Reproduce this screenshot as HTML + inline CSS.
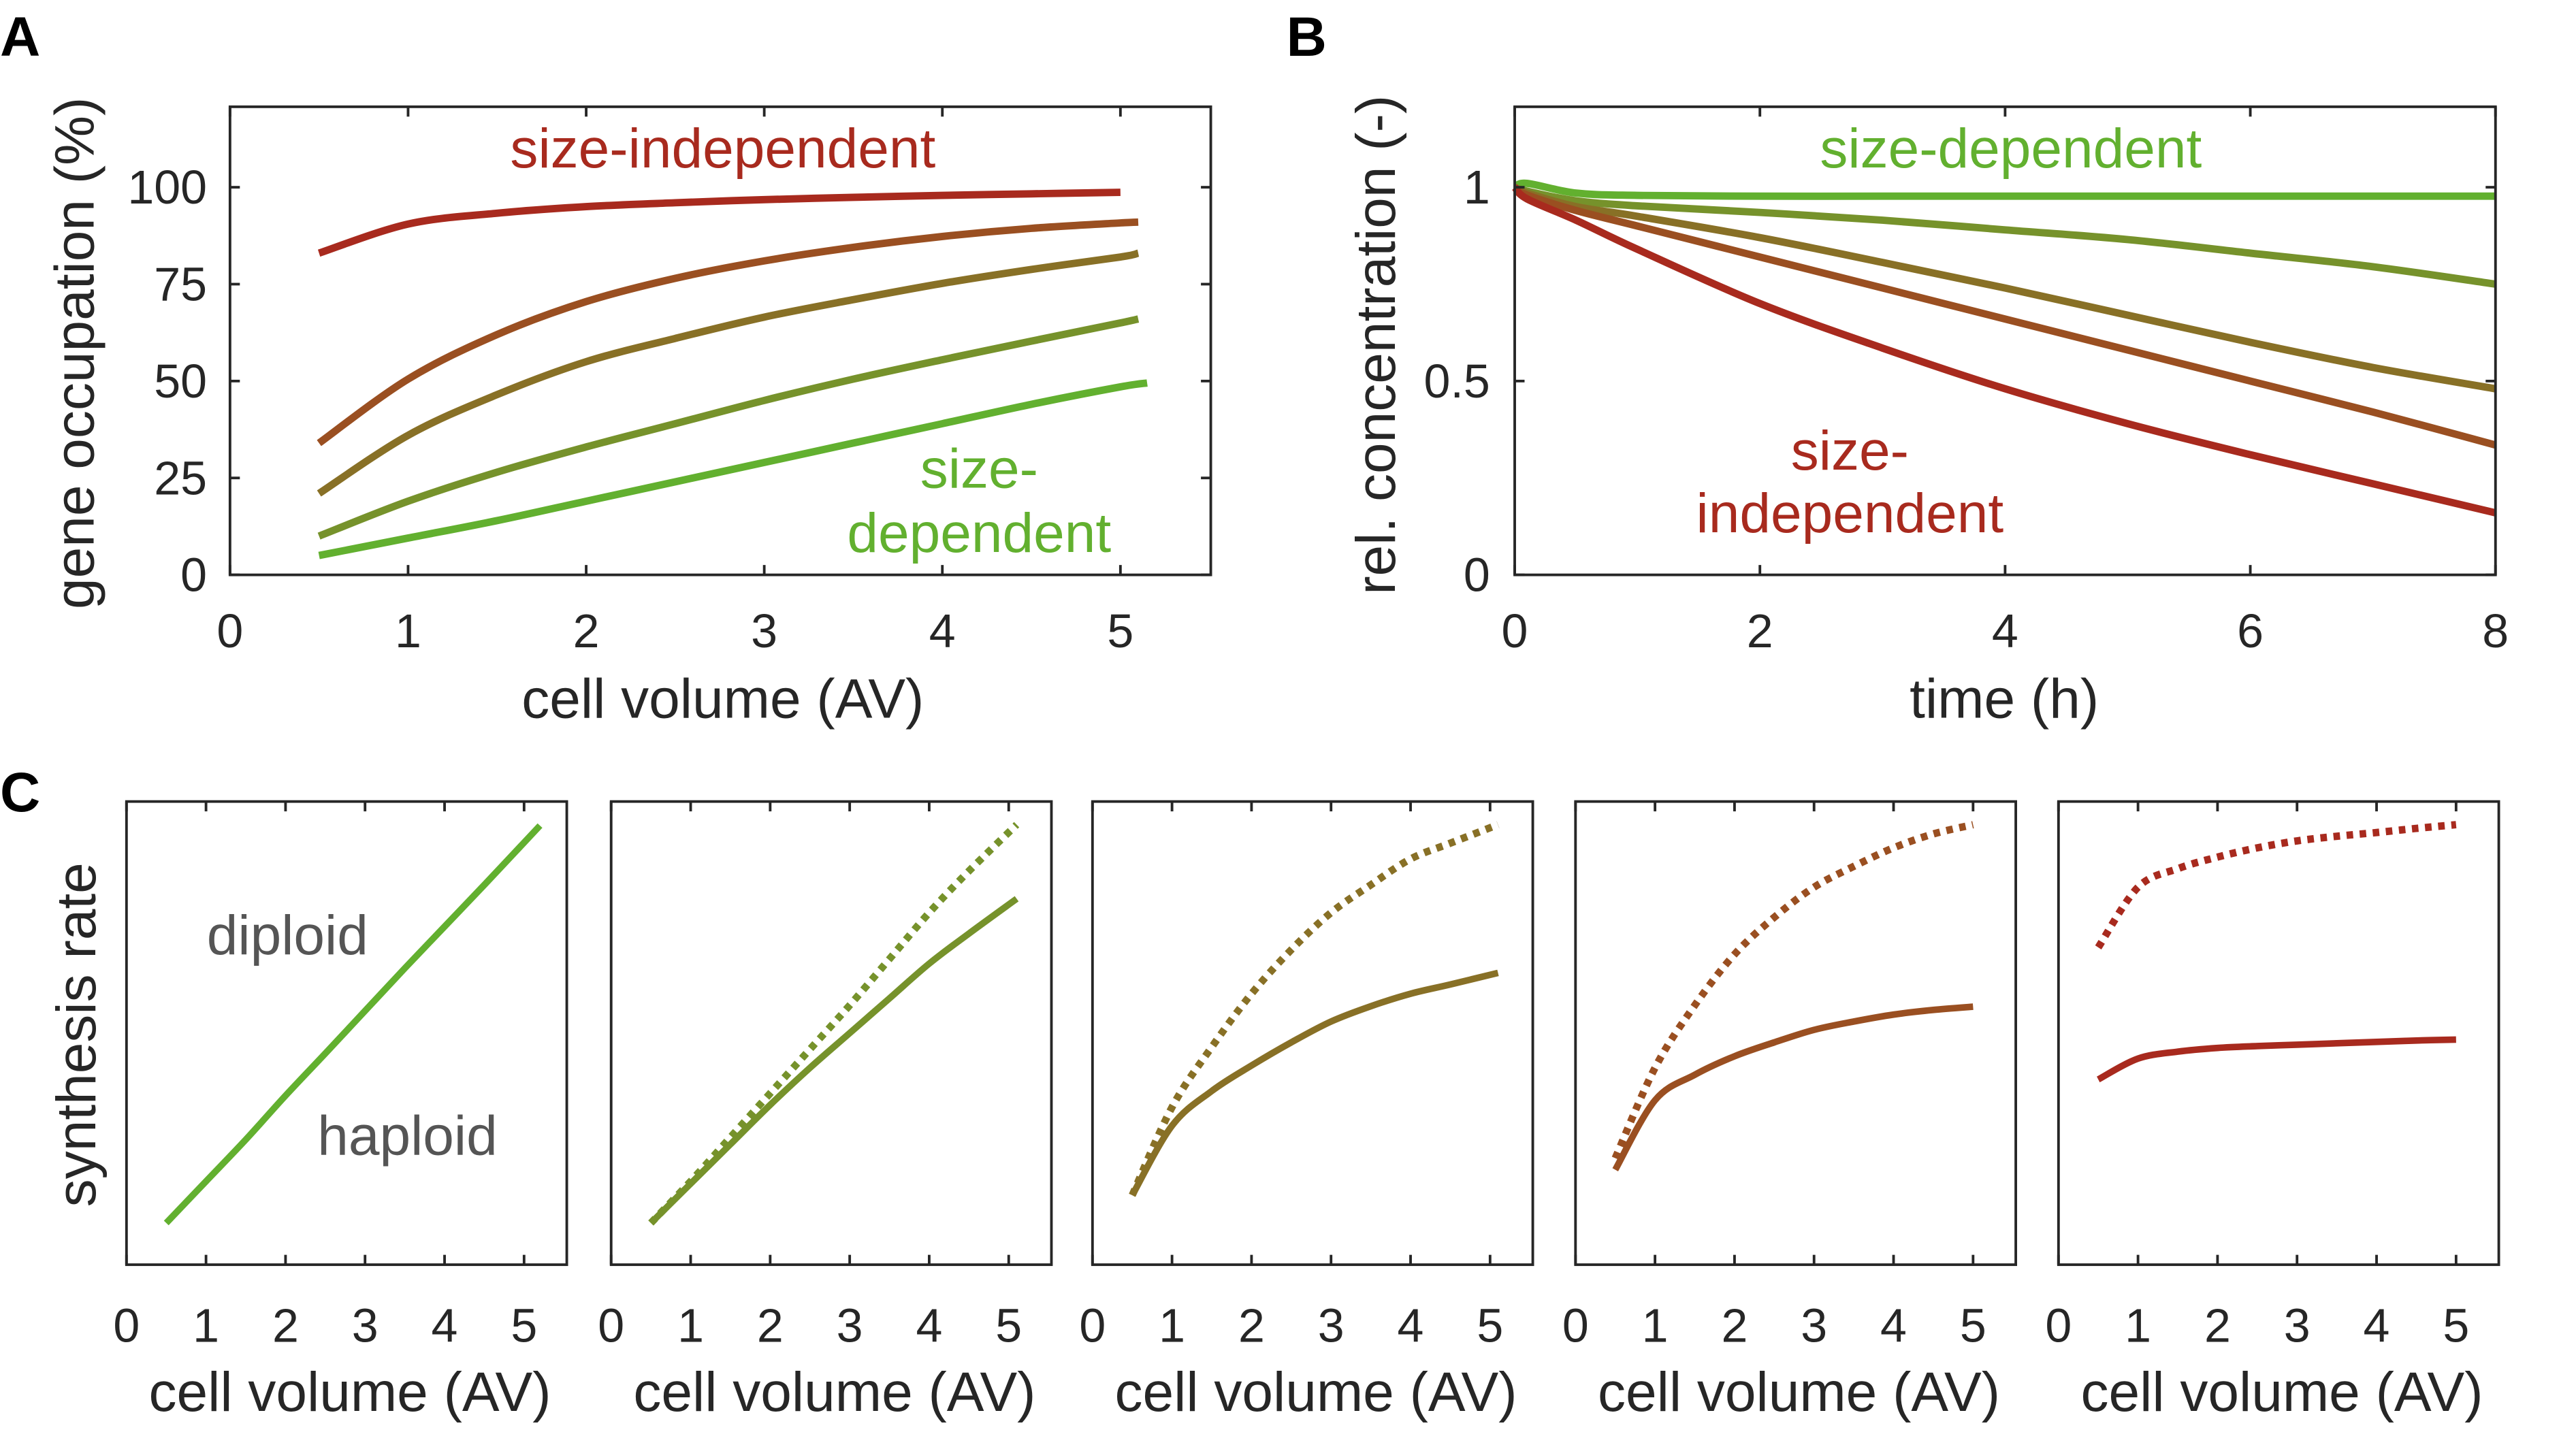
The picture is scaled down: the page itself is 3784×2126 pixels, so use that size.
<!DOCTYPE html>
<html><head><meta charset="utf-8">
<style>
html,body{margin:0;padding:0;background:#fff;}
svg{display:block;}
text{font-family:"Liberation Sans",sans-serif;}
</style></head>
<body>
<svg id="fig" width="3784" height="2126" viewBox="0 0 1568 881" preserveAspectRatio="none" xmlns="http://www.w3.org/2000/svg">
<g id="root"></g>
</svg>
<script>
// ---- Panel A data ----
const aVol = [0.5,1,1.5,2,2.5,3,3.5,4,4.5,5,5.1];
const aSizeIndep = [83,90.5,93.3,95,96,96.8,97.4,97.9,98.3,98.7,99];
const aCurve2 = [34,50.5,62,70.5,76.5,81,84.5,87.3,89.4,90.8,91];
const aCurve3 = [21,36,46.5,55,61,66.5,71,75.2,78.8,82,83];
const aCurve4 = [10,19,26.5,33,39,45,50.5,55.5,60.3,65,66];
const aSizeDep = [5,9.5,14,19,24,29,34,39,44,48.5,49.5];
const aXTicks = [0,1,2,3,4,5];
const aYTicks = [0,25,50,75,100];
// ---- Panel B data ----
const bTime = [0,0.1,0.5,1,2,3,4,5,6,7,8];
const bSizeDep = [1,1.01,0.985,0.979,0.977,0.977,0.977,0.977,0.977,0.977,0.977];
const bCurve2 = [1,0.99,0.965,0.952,0.935,0.915,0.89,0.865,0.83,0.795,0.75];
const bCurve3 = [1,0.985,0.95,0.925,0.87,0.806,0.74,0.67,0.60,0.535,0.48];
const bCurve4 = [1,0.98,0.94,0.90,0.82,0.74,0.66,0.58,0.50,0.42,0.335];
const bSizeIndep = [1,0.97,0.915,0.84,0.70,0.585,0.48,0.39,0.31,0.235,0.16];
const bXTicks = [0,2,4,6,8];
const bYTicks = [0,0.5,1];
const bYLabels = ["0","0.5","1"];
// ---- Panel C data (synthesis rate, arbitrary units) ----
const cVol = [0.5,1,1.5,2,2.5,3,3.5,4,4.5,5];
const cVolEnd = [5.2,5.1,5.1,5.0,5.0];
const cDiploid = [
 [0.09,0.18,0.27,0.365,0.456,0.548,0.64,0.73,0.82,0.948],
 [0.09,0.18,0.275,0.37,0.465,0.56,0.66,0.76,0.85,0.95],
 [0.15,0.34,0.47,0.585,0.68,0.76,0.82,0.876,0.91,0.95],
 [0.23,0.425,0.56,0.67,0.75,0.815,0.86,0.90,0.93,0.95],
 [0.685,0.815,0.855,0.88,0.90,0.915,0.925,0.933,0.942,0.95]
];
const cHaploid = [
 [0.09,0.18,0.27,0.365,0.456,0.548,0.64,0.73,0.82,0.948],
 [0.09,0.175,0.26,0.345,0.425,0.50,0.575,0.65,0.715,0.79],
 [0.15,0.30,0.375,0.43,0.48,0.525,0.558,0.585,0.605,0.63],
 [0.205,0.355,0.41,0.45,0.48,0.507,0.525,0.54,0.55,0.557],
 [0.40,0.445,0.46,0.468,0.472,0.475,0.478,0.481,0.484,0.486]
];
const cXTicks = [0,1,2,3,4,5];
const cColors = ["#62b02f","#76922b","#887026","#9a4f21","#a82a1e"];

const NS="http://www.w3.org/2000/svg";
const root=document.getElementById('root');
function mk(tag,attrs,parent){const e=document.createElementNS(NS,tag);for(const k in attrs)e.setAttribute(k,attrs[k]);(parent||root).appendChild(e);return e;}
function txt(s,x,y,size,attrs){const e=mk('text',Object.assign({x:x,y:y,'font-size':size,fill:'#262626','text-anchor':'middle'},attrs||{}));e.textContent=s;return e;}
function scale(d0,d1,r0,r1){return v=>r0+(v-d0)/(d1-d0)*(r1-r0);}
function line(xs,ys,sx,sy,color,w,dash){
  const P=xs.map((x,i)=>[sx(x),sy(ys[i])]);
  let d='M'+P[0][0].toFixed(2)+' '+P[0][1].toFixed(2);
  for(let i=0;i<P.length-1;i++){
    const p0=P[i-1]||P[i],p1=P[i],p2=P[i+1],p3=P[i+2]||P[i+1];
    const c1=[p1[0]+(p2[0]-p0[0])/6,p1[1]+(p2[1]-p0[1])/6];
    const c2=[p2[0]-(p3[0]-p1[0])/6,p2[1]-(p3[1]-p1[1])/6];
    d+=' C'+c1[0].toFixed(2)+' '+c1[1].toFixed(2)+' '+c2[0].toFixed(2)+' '+c2[1].toFixed(2)+' '+p2[0].toFixed(2)+' '+p2[1].toFixed(2);
  }
  const a={d:d,fill:'none',stroke:color,'stroke-width':w,'stroke-linejoin':'round'};
  if(dash)a['stroke-dasharray']=dash;
  return mk('path',a);
}
function box(x0,y0,x1,y1,name){
  const r=mk('rect',{x:x0,y:y0,width:x1-x0,height:y1-y0,fill:'none',stroke:'#262626','stroke-width':1.6});
  
  
}
function tickX(sx,vals,labels,y0,y1,ly,size,name){
  vals.forEach((v,i)=>{
    const x=sx(v);
    mk('line',{x1:x,x2:x,y1:y1,y2:y1-6,stroke:'#262626','stroke-width':1.6});
    mk('line',{x1:x,x2:x,y1:y0,y2:y0+6,stroke:'#262626','stroke-width':1.6});
    const t=txt(labels?labels[i]:String(v),x,ly,size);
    
    
  });
}
function tickY(sy,vals,labels,x0,x1,lx,name){
  vals.forEach((v,i)=>{
    const y=sy(v);
    mk('line',{x1:x0,x2:x0+6,y1:y,y2:y,stroke:'#262626','stroke-width':1.6});
    mk('line',{x1:x1,x2:x1-6,y1:y,y2:y,stroke:'#262626','stroke-width':1.6});
    const t=txt(labels?labels[i]:String(v),lx,y+10,29,{'text-anchor':'end'});
    
    
  });
}

let L=txt('A',0,34,34,{'font-weight':'bold','text-anchor':'start',fill:'#000'});


L=txt('B',783,34,34,{'font-weight':'bold','text-anchor':'start',fill:'#000'});


L=txt('C',0,494,34,{'font-weight':'bold','text-anchor':'start',fill:'#000'});



// ---- Panel A ----
{
  const sx=scale(0,5,140,682), sy=scale(0,100,350,114);
  const colors=["#a82a1e","#9a4f21","#887026","#76922b","#62b02f"];
  const series=[aSizeIndep,aCurve2,aCurve3,aCurve4,aSizeDep];
  const names=['curve-a-size-independent','curve-a-2','curve-a-3','curve-a-4','curve-a-size-dependent'];
  series.forEach((s,i)=>{
    let xs=aVol.slice(), ys=s.slice();
    if(i===0){xs=xs.slice(0,10);ys=ys.slice(0,10);}
    if(i===4)xs[xs.length-1]=5.15;
    const p=line(xs,ys,sx,sy,colors[i],4.5);
    
    
  });
  box(140,65,737,350,'plot-a-axes');
  tickX(sx,aXTicks,null,65,350,394,29,'x-tick-label-a');
  tickY(sy,aYTicks,null,140,737,126,'y-tick-label-a');
  let t=txt('cell volume (AV)',440,437,34);  
  t=txt('gene occupation (%)',0,0,34,{transform:'translate(57,215) rotate(-90)'});  
  t=txt('size-independent',440,102,34,{fill:'#a82a1e'});  
  t=txt('size-',596,297,34,{fill:'#62b02f'});  
  t=txt('dependent',596,336,34,{fill:'#62b02f'});  
}
// ---- Panel B ----
{
  const sx=scale(0,8,922,1519), sy=scale(0,1,350,114);
  const colors=["#62b02f","#76922b","#887026","#9a4f21","#a82a1e"];
  const series=[bSizeDep,bCurve2,bCurve3,bCurve4,bSizeIndep];
  const names=['curve-b-size-dependent','curve-b-2','curve-b-3','curve-b-4','curve-b-size-independent'];
  series.forEach((s,i)=>{
    const p=line(bTime,s,sx,sy,colors[i],4.5);
    
    
  });
  box(922,65,1519,350,'plot-b-axes');
  tickX(sx,bXTicks,null,65,350,394,29,'x-tick-label-b');
  tickY(sy,bYTicks,bYLabels,922,1519,907,'y-tick-label-b');
  let t=txt('time (h)',1220,437,34);  
  t=txt('rel. concentration (-)',0,0,34,{transform:'translate(849,210) rotate(-90)'});  
  t=txt('size-dependent',1224,102,34,{fill:'#62b02f'});  
  t=txt('size-',1126,286,34,{fill:'#a82a1e'});  
  t=txt('independent',1126,324,34,{fill:'#a82a1e'});  
}
// ---- Panel C ----
{
  const lefts=[77,372,665,959,1253];
  lefts.forEach((x0,k)=>{
    const x1=x0+268;
    const sx=scale(0,5,x0,x0+242), sy=scale(0,1,770,488);
    const xs=cVol.slice(); xs[xs.length-1]=cVolEnd[k];
    const h=line(xs,cHaploid[k],sx,sy,cColors[k],4);
    
    
    if(k>0){
      const d=line(xs,cDiploid[k],sx,sy,cColors[k],4.5,'4 4');
      
      
    }
    box(x0,488,x1,770,'plot-c'+(k+1)+'-axes');
    tickX(sx,cXTicks,null,488,770,817,29,'x-tick-label-c'+(k+1));
    const t=txt('cell volume (AV)',x0+136,859,34);
    
    
  });
  let t=txt('synthesis rate',0,0,34,{transform:'translate(58,630) rotate(-90)'});  
  t=txt('diploid',175,581,34,{fill:'#555'});  
  t=txt('haploid',248,703,34,{fill:'#555'});  
}
</script>
</body></html>
